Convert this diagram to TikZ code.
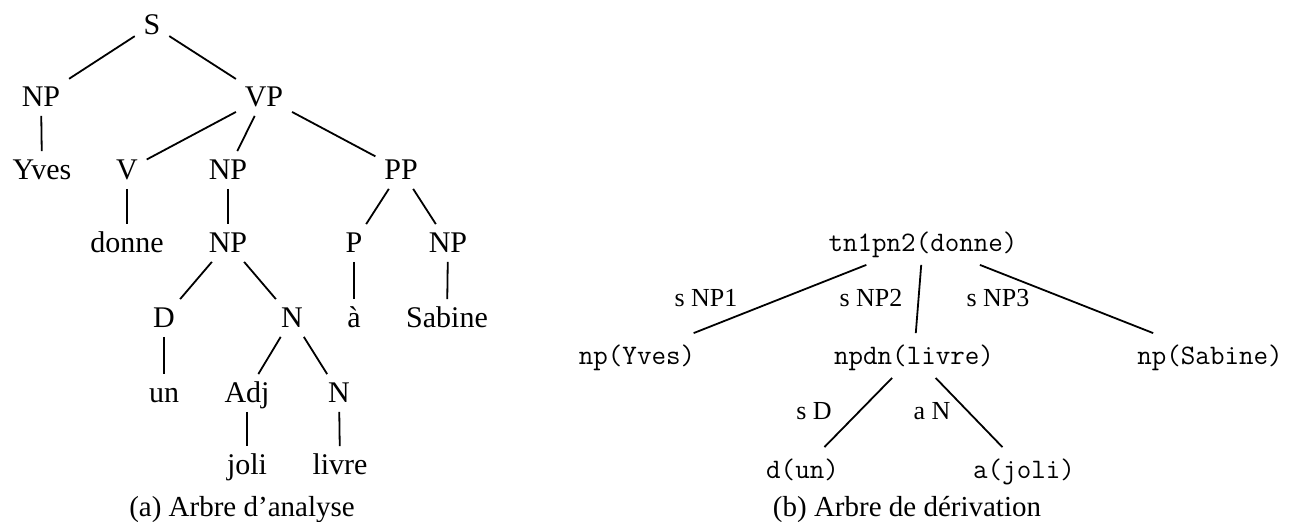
\documentclass[tikz,border=0pt]{standalone}
\usepackage{fontspec}
\setmainfont{Liberation Serif}

\begin{document}
\begin{tikzpicture}[x=0.5pt, y=-0.5pt, line width=0.9pt,
		cat/.style={inner sep=4pt, text height=10pt, text depth=0pt, font=\fontsize{15}{18}\selectfont},
		elem/.style={inner xsep=2pt, inner ysep=6.25pt, text height=9pt, text depth=0pt, font=\fontsize{14.1}{17}\selectfont\ttfamily},
		lab/.style={anchor=base, inner sep=0pt, font=\fontsize{13}{15}\selectfont},
		capt/.style={anchor=base, inner sep=0pt, font=\fontsize{14.5}{17}\selectfont}]
		\useasboundingbox (0,0) rectangle (1294,522);
		
		% (a) arbre d'analyse
		\node[cat] (s) at (152,25) {S};
		\node[cat] (np) at (41,97) {NP};
		\node[cat] (vp) at (264,97) {VP};
		\node[cat] (yves) at (42,170) {Yves};
		\node[cat] (v) at (127,170) {V};
		\node[cat] (npa) at (228,170) {NP};
		\node[cat] (pp) at (401,170) {PP};
		\node[cat] (donne) at (127,243) {donne};
		\node[cat] (npb) at (228,243) {NP};
		\node[cat] (p) at (354,243) {P};
		\node[cat] (npc) at (448,243) {NP};
		\node[cat] (d) at (164,318) {D};
		\node[cat] (n) at (292,318) {N};
		\node[cat] (a) at (354,318) {à};
		\node[cat] (sabine) at (447,318) {Sabine};
		\node[cat] (un) at (164,393) {un};
		\node[cat] (adj) at (247,393) {Adj};
		\node[cat] (nb) at (339,393) {N};
		\node[cat] (joli) at (247,465) {joli};
		\node[cat] (livre) at (340,465) {livre};
		
		\foreach \a/\b in {s/np, s/vp, np/yves, vp/v, vp/npa, vp/pp, v/donne, npa/npb, pp/p, pp/npc,
			npb/d, npb/n, p/a, npc/sabine, d/un, n/adj, n/nb, adj/joli, nb/livre}
		{
			\draw (\a) -- (\b);
		}
		
		\node[capt] (capa) at (242,517) {(a) Arbre d’analyse};
		
		% (b) arbre de derivation
		\node[elem] (tn) at (923,242.5) {tn1pn2(donne)};
		\node[elem] (npyves) at (637,355.5) {np(Yves)};
		\node[elem] (npdn) at (914,355.5) {npdn(livre)};
		\node[elem] (npsab) at (1210,355.5) {np(Sabine)};
		\node[elem] (dun) at (802.5,469.5) {d(un)};
		\node[elem] (ajoli) at (1024,469.5) {a(joli)};
		
		\foreach \a/\b in {tn/npyves, tn/npdn, tn/npsab, npdn/dun, npdn/ajoli}
		{
			\draw (\a) -- (\b);
		}
		
		\node[lab] (l1) at (706,307) {s NP1};
		\node[lab] (l2) at (871,307) {s NP2};
		\node[lab] (l3) at (998,307) {s NP3};
		\node[lab] (l4) at (814,420) {s D};
		\node[lab] (l5) at (932,420) {a N};
		
		\node[capt] (capb) at (907,517) {(b) Arbre de dérivation};
	\end{tikzpicture}
\end{document}
